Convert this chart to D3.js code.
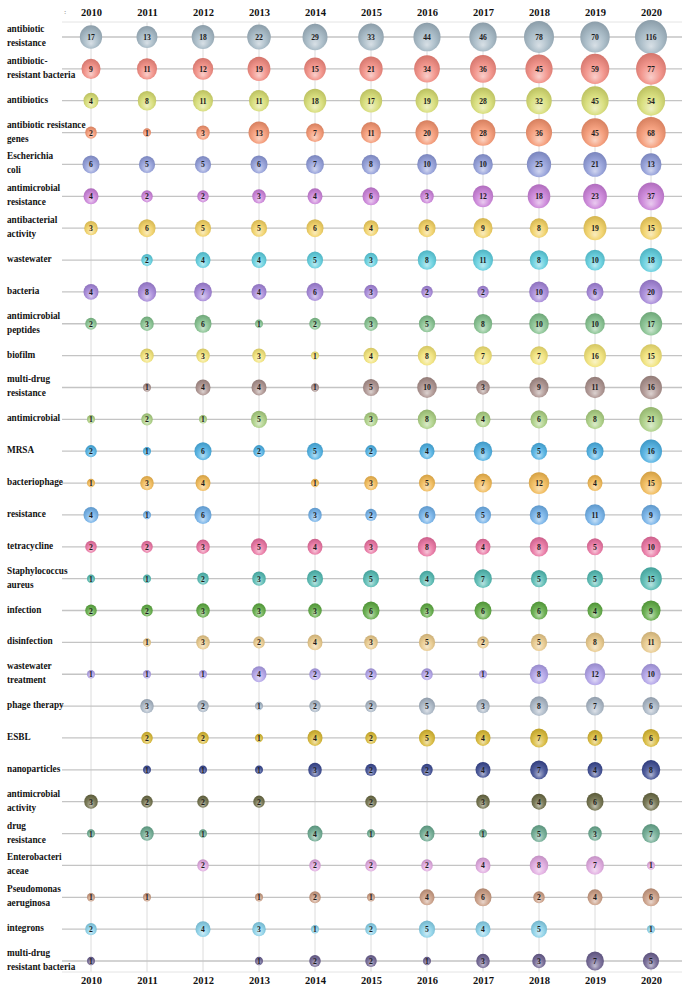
<!DOCTYPE html>
<html>
<head>
<meta charset="utf-8">
<script src="https://cdn.jsdelivr.net/npm/d3@7"></script>
<style>
	body { margin: 0; background: #fff; }
	text { font-family: "Liberation Serif", "Times New Roman", serif; font-weight: bold; }
</style>
</head>
<body>
<svg id="chart" width="688" height="991"></svg>
<script>
var years = ["2010","2011","2012","2013","2014","2015","2016","2017","2018","2019","2020"];

// keyword labels, split into the lines shown on the left
var keywords = [
	["antibiotic","resistance"],
	["antibiotic-","resistant bacteria"],
	["antibiotics"],
	["antibiotic resistance","genes"],
	["Escherichia","coli"],
	["antimicrobial","resistance"],
	["antibacterial","activity"],
	["wastewater"],
	["bacteria"],
	["antimicrobial","peptides"],
	["biofilm"],
	["multi-drug","resistance"],
	["antimicrobial"],
	["MRSA"],
	["bacteriophage"],
	["resistance"],
	["tetracycline"],
	["Staphylococcus","aureus"],
	["infection"],
	["disinfection"],
	["wastewater","treatment"],
	["phage therapy"],
	["ESBL"],
	["nanoparticles"],
	["antimicrobial","activity"],
	["drug","resistance"],
	["Enterobacteri","aceae"],
	["Pseudomonas","aeruginosa"],
	["integrons"],
	["multi-drug","resistant bacteria"]
];

// counts per year (null = no publications that year)
var counts = [
	[17,13,18,22,29,33,44,46,78,70,116],
	[9,11,12,19,15,21,34,36,45,59,77],
	[4,8,11,11,18,17,19,28,32,45,54],
	[2,1,3,13,7,11,20,28,36,45,68],
	[6,5,5,6,7,8,10,10,25,21,13],
	[4,2,2,3,4,6,3,12,18,23,37],
	[3,6,5,5,6,4,6,9,8,19,15],
	[null,2,4,4,5,3,8,11,8,10,18],
	[4,8,7,4,6,3,2,2,10,6,20],
	[2,3,6,1,2,3,5,8,10,10,17],
	[null,3,3,3,1,4,8,7,7,16,15],
	[null,1,4,4,1,5,10,3,9,11,16],
	[1,2,1,5,null,3,8,4,6,8,21],
	[2,1,6,2,5,2,4,8,5,6,16],
	[1,3,4,null,1,3,5,7,12,4,15],
	[4,1,6,null,3,2,6,5,8,11,9],
	[2,2,3,5,4,3,8,4,8,5,10],
	[1,1,2,3,5,5,4,7,5,5,15],
	[2,2,3,3,3,6,3,6,6,4,9],
	[null,1,3,2,4,3,5,2,5,8,11],
	[1,1,1,4,2,2,2,1,8,12,10],
	[null,3,2,1,2,2,5,3,8,7,6],
	[null,2,2,1,4,2,5,4,7,4,6],
	[null,1,1,1,3,2,2,4,7,4,8],
	[3,2,2,2,null,2,null,3,4,6,6],
	[1,3,1,null,4,1,4,1,5,3,7],
	[null,null,2,null,2,2,2,4,8,7,1],
	[1,1,null,1,2,1,4,6,2,4,6],
	[2,null,4,3,1,2,5,4,5,null,1],
	[1,null,null,1,2,2,1,3,3,7,5]
];

var rowColors = [
	"#9db2c0","#f0857a","#d4da6c","#f3906a","#8a97d6","#c77ad6","#f0cd5a","#58cbdc",
	"#a080d6","#7dbd88","#f0e070","#a58b87","#a6cc7c","#45ace0","#f0b54c","#6aace6",
	"#e76c9c","#4cb6ae","#58a63c","#e6c584","#ab9ce6","#a4b2c2","#d6b52c","#34438c",
	"#66663f","#66a68c","#dea4de","#c6977d","#82cde6","#675c8c"
];

var svg = d3.select("#chart");
var rows = d3.range(keywords.length);

var x = d3.scalePoint().domain(years).range([91, 651]);
var y = d3.scalePoint().domain(rows).range([37, 961]);
var r = d3.scaleLog().domain([1, 116]).range([4, 16]);

// radial gradients, light toward the bottom like a glass bead
var defs = svg.append("defs");
rowColors.forEach(function(c, i) {
	var g = defs.append("radialGradient").attr("id", "bead" + i)
		.attr("cx", "50%").attr("cy", "58%").attr("r", "58%")
		.attr("fx", "50%").attr("fy", "78%");
	g.append("stop").attr("offset", "0%").attr("stop-color", d3.interpolateRgb(c, "#fff")(0.6));
	g.append("stop").attr("offset", "55%").attr("stop-color", d3.interpolateRgb(c, "#fff")(0.15));
	g.append("stop").attr("offset", "100%").attr("stop-color", d3.color(c).darker(0.35));
});

// grid
svg.append("g").selectAll("line").data(years).join("line")
	.attr("x1", function(d) { return x(d); }).attr("x2", function(d) { return x(d); })
	.attr("y1", 22).attr("y2", 972)
	.attr("stroke", "#dcdcdc").attr("stroke-width", 1);

svg.append("g").selectAll("line").data([22, 972]).join("line")
	.attr("x1", 62).attr("x2", 682)
	.attr("y1", function(d) { return d; }).attr("y2", function(d) { return d; })
	.attr("stroke", "#e4e4e4").attr("stroke-width", 1);

svg.append("g").selectAll("line").data(rows).join("line")
	.attr("x1", 62).attr("x2", 682)
	.attr("y1", function(d) { return y(d); }).attr("y2", function(d) { return y(d); })
	.attr("stroke", "#c4c4c4").attr("stroke-width", 1.3);

// year axes top and bottom
function styleAxis(g) {
	g.select(".domain").remove();
	g.selectAll("text").attr("font-size", 10.5).attr("fill", "#111")
		.attr("font-family", "'Liberation Serif', serif").attr("font-weight", "bold");
}
svg.append("g").attr("transform", "translate(0,16)")
	.call(d3.axisTop(x).tickSize(0).tickPadding(0)).call(styleAxis);
svg.append("g").attr("transform", "translate(0,977)")
	.call(d3.axisBottom(x).tickSize(0).tickPadding(0)).call(styleAxis);

svg.append("text").attr("x", 64).attr("y", 14).attr("font-size", 7)
	.attr("fill", "#999").text(":");

// keyword labels
var labels = svg.append("g").selectAll("text").data(rows).join("text")
	.attr("transform", function(d) {
		var n = keywords[d].length;
		return "translate(7," + (y(d) + (n > 1 ? -5 : 2)) + ") scale(0.88,1)";
	})
	.attr("font-size", 10.5).attr("fill", "#111");
labels.selectAll("tspan").data(function(d) { return keywords[d]; }).join("tspan")
	.attr("x", 0).attr("dy", function(d, i) { return i ? 14 : 0; })
	.text(function(d) { return d; });

// bubbles
var cells = [];
counts.forEach(function(row, i) {
	row.forEach(function(v, j) {
		if (v != null) cells.push({row: i, year: years[j], value: v});
	});
});

var bubble = svg.append("g").selectAll("g").data(cells).join("g")
	.attr("transform", function(d) { return "translate(" + x(d.year) + "," + y(d.row) + ")"; });

bubble.append("ellipse")
	.attr("rx", function(d) { return r(d.value); })
	.attr("ry", function(d) { return r(d.value) * 1.06; })
	.attr("fill", function(d) { return "url(#bead" + d.row + ")"; });

bubble.append("text")
	.attr("text-anchor", "middle").attr("dy", "0.35em")
	.attr("transform", "scale(0.9,1)")
	.attr("font-size", 8.5).attr("fill", "#1b1b1b")
	.text(function(d) { return d.value; });
</script>
</body>
</html>
